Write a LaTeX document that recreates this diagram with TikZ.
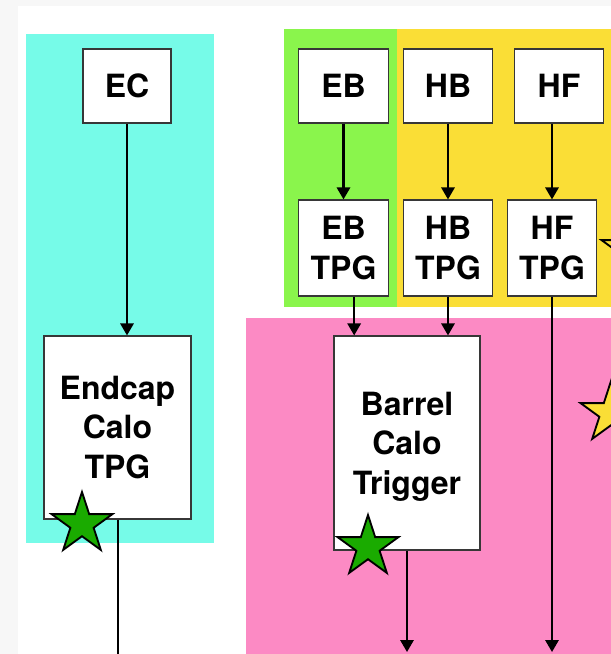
\documentclass[tikz,border=0pt]{standalone}
\usepackage{fontspec}
\setmainfont{TeX Gyre Heros}
\usetikzlibrary{arrows.meta,positioning,shapes.geometric}
\definecolor{paper}{RGB}{247,247,247}
\definecolor{aqua}{RGB}{118,251,232}
\definecolor{grass}{RGB}{138,245,76}
\definecolor{sun}{RGB}{250,222,54}
\definecolor{rose}{RGB}{252,138,196}
\definecolor{leaf}{RGB}{26,171,0}
\definecolor{frame}{RGB}{55,55,55}
\tikzset{
  >={Triangle[length=9pt,width=10pt]},
  box/.style={draw=frame,fill=white,line width=0.9pt,align=center,inner sep=0pt,
    font=\fontsize{24}{29.5}\selectfont\bfseries},
  flow/.style={->,line width=1.6pt,draw=black},
  wire/.style={line width=1.6pt,draw=black},
  badge/.style={star,star points=5,star point ratio=2.618,minimum size=48pt,
    inner sep=0pt,draw=black,line width=1.4pt,fill=#1},
  badge/.default=leaf,
}
\begin{document}
\begin{tikzpicture}[x=0.75pt,y=-0.75pt]
  \useasboundingbox (0,0) rectangle (611,654);
  \clip (0,0) rectangle (611,654);
  \fill[paper] (0,0) rectangle (611,654);
  \fill[white] (18,6) rectangle (611,654);
  % regions
  \fill[aqua] (26,34) rectangle (214,543);
  \fill[grass] (284,29) rectangle (397,307);
  \fill[sun] (397,29) rectangle (611,307);
  \fill[rose] (246,318) rectangle (611,654);

  % endcap
  \node[box,minimum width=66pt,minimum height=55.5pt] (EC) at (127,86) {EC};
  \node[box,minimum width=110.25pt,minimum height=137.25pt] (endcap) at (117.5,427.5) {Endcap\\Calo\\TPG};
  \draw[flow] (EC.south) -- (EC.south |- endcap.north);
  \coordinate (endout) at (118,660);
  \draw[wire] (endcap.south -| endout) -- (endout);

  % barrel
  \foreach \n/\xa/\xb in {EB/343.5/343.5,HB/448/448,HF/559/552}{
    \node[box,minimum width=67pt,minimum height=55.5pt] (\n) at (\xa,86) {\n};
    \node[box,minimum width=67pt,minimum height=72pt] (\n tpg) at (\xb,248) {\n\\TPG};
    \draw[flow] (\n tpg.north |- \n.south) -- (\n tpg.north);
  }
  \node[box,minimum width=109.5pt,minimum height=160.5pt,text depth=-7.5pt] (barrel) at (407,443) {Barrel\\Calo\\Trigger};
  \draw[flow] ([xshift=8pt]EBtpg.south) -- ([xshift=8pt]EBtpg.south |- barrel.north);
  \draw[flow] (HBtpg.south) -- (HBtpg.south |- barrel.north);
  \coordinate (barout) at (407,652);
  \coordinate (hfout) at (552,652);
  \draw[flow] (barrel.south) -- (barout);
  \draw[flow] (HFtpg.south) -- (hfout);

  % stars
  \node[badge] (s1) at (82,524) {};
  \node[badge] (s2) at (368,547) {};
  \node[badge=sun] (s3) at (611,413) {};
  \node[badge=sun] (s4) at (632,250) {};
\end{tikzpicture}
\end{document}
